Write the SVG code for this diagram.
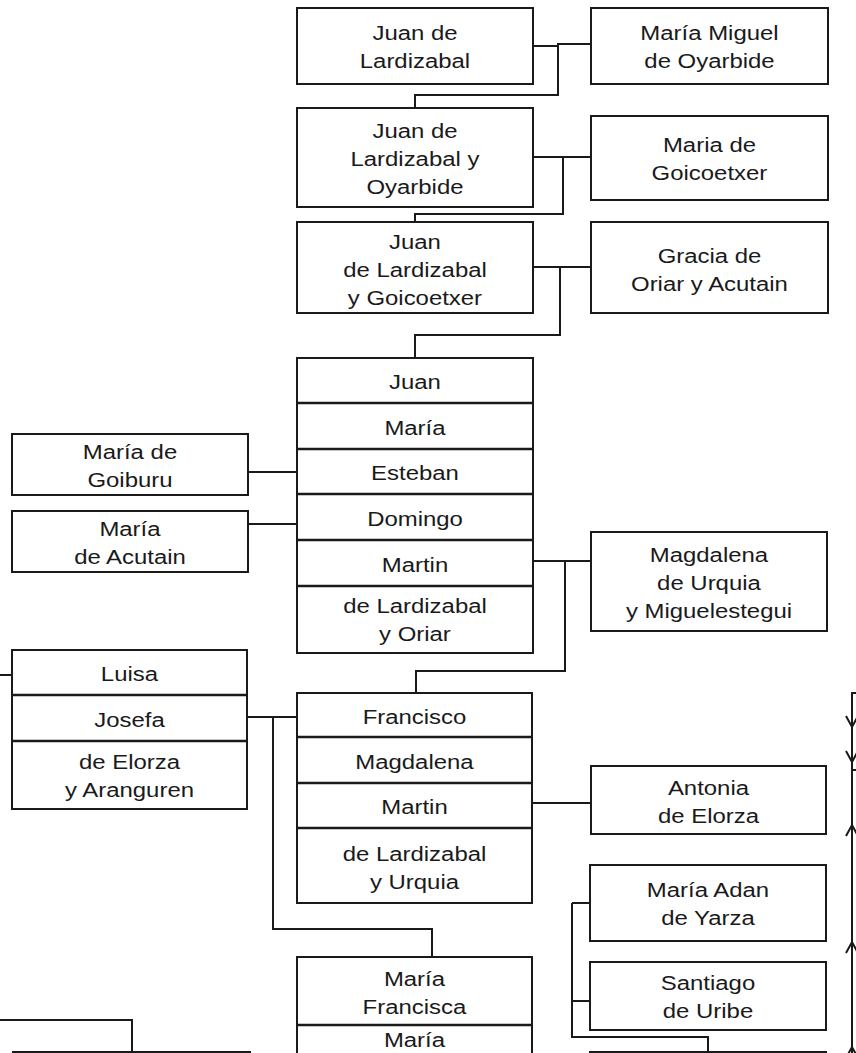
<svg xmlns="http://www.w3.org/2000/svg" width="856" height="1053" viewBox="0 0 856 1053">
<style>
  rect { fill: #fff; stroke: #1a1a1a; stroke-width: 2; }
  .div { stroke: #1a1a1a; stroke-width: 2.5; fill: none; }
  .c { stroke: #1a1a1a; stroke-width: 2; fill: none; }
  text { font-family: "Liberation Sans", Arial, sans-serif; font-size: 21px; fill: #1a1a1a; text-anchor: middle; transform-box: fill-box; transform-origin: 50% 50%; transform: scaleX(1.14); }
</style>
<defs>
  <path id="down" d="M-6,-11 L0,0 L6,-11" fill="none" stroke="#1a1a1a" stroke-width="2"/>
  <path id="up" d="M-6,11 L0,0 L6,11" fill="none" stroke="#1a1a1a" stroke-width="2"/>
</defs>
<g id="connectors">
  <path class="c" d="M533,46 H558 V44 H591 M558,44 V95 H415 V108"/>
  <path class="c" d="M533,157 H591 M563,157 V214 H415 V222"/>
  <path class="c" d="M533,267 H591 M560,267 V335 H415 V358"/>
  <path class="c" d="M248,472 H297"/>
  <path class="c" d="M248,524 H297"/>
  <path class="c" d="M533,561 H591 M565,561 V671 H416 V693"/>
  <path class="c" d="M0,675 H12"/>
  <path class="c" d="M247,717 H297 M273,717 V929 H432 V957"/>
  <path class="c" d="M533,803 H591"/>
  <path class="c" d="M572,903 H590 M572,1001 H590 M572,903 V1037 H708 V1052"/>
  <path class="c" d="M0,1020 H132 V1053"/>
  <path class="c" d="M856,693 H852 V1053 M853,770 H856"/>
  <use href="#down" x="852" y="727"/>
  <use href="#down" x="852" y="762"/>
  <use href="#up" x="852" y="825"/>
  <use href="#up" x="852" y="942"/>
  <use href="#up" x="852" y="1047"/>
</g>
<g id="juan-lardizabal">
  <rect x="297" y="8" width="236" height="76"/>
  <text x="415" y="40">Juan de</text>
  <text x="415" y="68">Lardizabal</text>
</g>
<g id="maria-miguel">
  <rect x="591" y="8" width="237" height="76"/>
  <text x="709.5" y="40">María Miguel</text>
  <text x="709.5" y="68">de Oyarbide</text>
</g>
<g id="juan-oyarbide">
  <rect x="297" y="108" width="236" height="99"/>
  <text x="415" y="138">Juan de</text>
  <text x="415" y="166">Lardizabal y</text>
  <text x="415" y="194">Oyarbide</text>
</g>
<g id="maria-goicoetxer">
  <rect x="591" y="116" width="237" height="84"/>
  <text x="709.5" y="152">Maria de</text>
  <text x="709.5" y="180">Goicoetxer</text>
</g>
<g id="juan-goicoetxer">
  <rect x="297" y="222" width="236" height="91"/>
  <text x="415" y="249">Juan</text>
  <text x="415" y="277">de Lardizabal</text>
  <text x="415" y="305">y Goicoetxer</text>
</g>
<g id="gracia-oriar">
  <rect x="591" y="222" width="237" height="91"/>
  <text x="709.5" y="263">Gracia de</text>
  <text x="709.5" y="291">Oriar y Acutain</text>
</g>
<g id="hermanos-oriar">
  <rect x="297" y="358" width="236" height="295"/>
  <path class="div" d="M297,403 H533 M297,449 H533 M297,494 H533 M297,540 H533 M297,586 H533"/>
  <text x="415" y="389">Juan</text>
  <text x="415" y="435">María</text>
  <text x="415" y="480">Esteban</text>
  <text x="415" y="526">Domingo</text>
  <text x="415" y="572">Martin</text>
  <text x="415" y="613">de Lardizabal</text>
  <text x="415" y="641">y Oriar</text>
</g>
<g id="maria-goiburu">
  <rect x="12" y="434" width="236" height="61"/>
  <text x="130" y="459">María de</text>
  <text x="130" y="487">Goiburu</text>
</g>
<g id="maria-acutain">
  <rect x="12" y="511" width="236" height="61"/>
  <text x="130" y="536">María</text>
  <text x="130" y="564">de Acutain</text>
</g>
<g id="magdalena-urquia">
  <rect x="591" y="532" width="236" height="99"/>
  <text x="709" y="562">Magdalena</text>
  <text x="709" y="590">de Urquia</text>
  <text x="709" y="618">y Miguelestegui</text>
</g>
<g id="hermanas-elorza">
  <rect x="12" y="650" width="235" height="159"/>
  <path class="div" d="M12,695 H247 M12,741 H247"/>
  <text x="129.5" y="681">Luisa</text>
  <text x="129.5" y="727">Josefa</text>
  <text x="129.5" y="769">de Elorza</text>
  <text x="129.5" y="797">y Aranguren</text>
</g>
<g id="hermanos-urquia">
  <rect x="297" y="693" width="235" height="210"/>
  <path class="div" d="M297,737 H532 M297,783 H532 M297,828 H532"/>
  <text x="414.5" y="724">Francisco</text>
  <text x="414.5" y="769">Magdalena</text>
  <text x="414.5" y="814">Martin</text>
  <text x="414.5" y="861">de Lardizabal</text>
  <text x="414.5" y="889">y Urquia</text>
</g>
<g id="antonia-elorza">
  <rect x="591" y="766" width="235" height="68"/>
  <text x="708.5" y="795">Antonia</text>
  <text x="708.5" y="823">de Elorza</text>
</g>
<g id="maria-adan">
  <rect x="590" y="865" width="236" height="76"/>
  <text x="708" y="897">María Adan</text>
  <text x="708" y="925">de Yarza</text>
</g>
<g id="santiago-uribe">
  <rect x="590" y="962" width="236" height="68"/>
  <text x="708" y="990">Santiago</text>
  <text x="708" y="1018">de Uribe</text>
</g>
<g id="hijos-josefa">
  <rect x="297" y="957" width="235" height="130"/>
  <path class="div" d="M297,1025 H532"/>
  <text x="414.5" y="986">María</text>
  <text x="414.5" y="1014">Francisca</text>
  <text x="414.5" y="1047">María</text>
</g>
<g id="bottom-left">
  <rect x="13" y="1052" width="237" height="40"/>
</g>
<g id="bottom-right">
  <rect x="590" y="1052" width="236" height="40"/>
</g>
</svg>
